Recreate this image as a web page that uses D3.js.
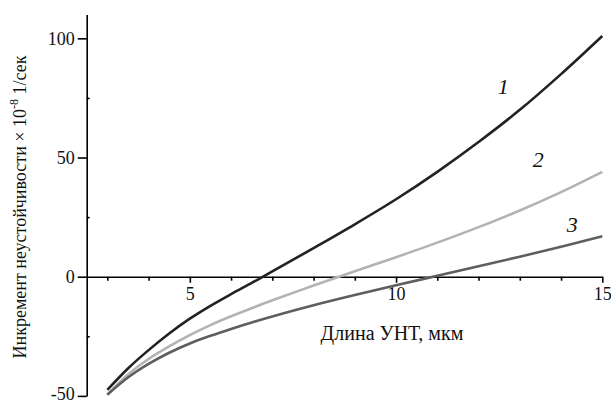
<!DOCTYPE html>
<html><head><meta charset="utf-8">
<script src="https://cdn.jsdelivr.net/npm/d3@7"></script>
<style>body{margin:0;background:#fff}svg{display:block}
svg text{font-family:"Liberation Serif","Times New Roman","Liberation Sans",Arial,sans-serif !important;}</style>
</head><body>
<svg id="c" width="611" height="403"></svg>
<script>
const xs = [3, 3.5, 4, 4.5, 5, 5.5, 6, 6.5, 7, 8, 9, 10, 11, 12, 13, 14, 15];
const curve1 = [-47.5, -38.5, -30.8, -23.8, -17.6, -12.2, -7.3, -2.6, 2.2, 12, 22, 32.5, 44, 56.5, 70, 85, 101];
const curve2 = [-49.5, -41, -34.5, -29.2, -24.5, -20.3, -16.6, -13.2, -9.9, -3.7, 2.3, 8.2, 14.3, 20.8, 27.8, 35.5, 44];
const curve3 = [-49.5, -42.3, -36.6, -31.9, -28, -24.8, -21.9, -19.2, -16.7, -12, -7.7, -3.6, 0.4, 4.4, 8.4, 12.6, 17];
const seriesNames = ["1", "2", "3"];
const seriesColors = ["#222222", "#b3b3b3", "#5e5e5e"];
const labelPos = [[12.6, 79.6], [13.45, 49], [14.27, 21.7]];
const xMajor = [5, 10, 15];
const xMinor = [3, 4, 6, 7, 8, 9, 11, 12, 13, 14];
const yMajor = [-50, 0, 50, 100];
const yMinor = [-25, 25, 75];
const xTitle = "Длина УНТ, мкм";

const svg = d3.select("#c");
const x = d3.scaleLinear().domain([2.5, 15]).range([86.7, 602.3]);
const y = d3.scaleLinear().domain([-50, 110]).range([395.9, 14.5]);
const fmt = d => String(d);

// X axis at y=0
const gx = svg.append("g").attr("transform", `translate(0,${y(0)})`);
gx.call(d3.axisBottom(x).tickValues(xMajor).tickSize(6).tickSizeOuter(0).tickPadding(5).tickFormat(fmt));
gx.append("g").call(d3.axisBottom(x).tickValues(xMinor).tickSize(4).tickFormat("")).select(".domain").remove();
gx.selectAll("text").attr("font-size", 18).attr("fill", "#111");
gx.selectAll("line,path").attr("stroke", "#000").attr("stroke-width", 1.6);

// Y axis
const gy = svg.append("g").attr("transform", `translate(${x(2.5)},0)`);
gy.call(d3.axisLeft(y).tickValues(yMajor).tickSize(9).tickSizeOuter(0).tickPadding(3).tickFormat(fmt));
gy.append("g").call(d3.axisRight(y).tickValues(yMinor).tickSize(3).tickFormat("")).select(".domain").remove();
gy.selectAll("text").attr("font-size", 18).attr("fill", "#111");
gy.selectAll("line,path").attr("stroke", "#000").attr("stroke-width", 1.6);
gy.selectAll(".tick text").filter(d => d === -50).attr("dy", "0.2em");

// Curves
const line = d3.line().x(d => x(d[0])).y(d => y(d[1])).curve(d3.curveCatmullRom.alpha(0.5));
[curve1, curve2, curve3].forEach((vals, i) => {
  svg.append("path")
    .datum(xs.map((v, j) => [v, vals[j]]))
    .attr("d", line)
    .attr("fill", "none")
    .attr("stroke", seriesColors[i])
    .attr("stroke-width", 2.6);
  svg.append("text")
    .attr("x", x(labelPos[i][0])).attr("y", y(labelPos[i][1]))
    .attr("text-anchor", "middle").attr("dominant-baseline", "central")
    .attr("font-style", "italic").attr("font-size", 22)
    .attr("fill", "#111").text(seriesNames[i]);
});

// Axis titles
svg.append("text").attr("x", 392).attr("y", 340).attr("text-anchor", "middle")
  .attr("font-size", 20).attr("fill", "#111").text(xTitle);

const yt = svg.append("text").attr("transform", "translate(26,207) rotate(-90)")
  .attr("text-anchor", "middle").attr("font-size", 18).attr("fill", "#111");
yt.append("tspan").text("Инкремент неустойчивости  × 10");
yt.append("tspan").attr("font-size", 12).attr("dy", -8).text("-8");
yt.append("tspan").attr("dy", 8).text(" 1/сек");
</script>
</body></html>
